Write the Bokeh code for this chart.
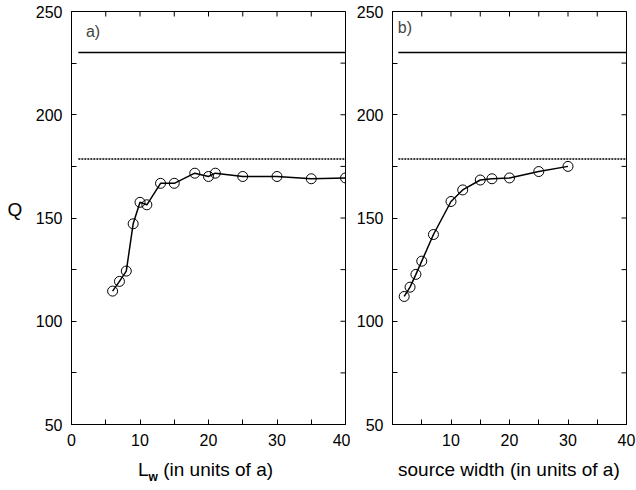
import math
from bokeh.plotting import figure
from bokeh.layouts import row, column
from bokeh.models import Range1d, FixedTicker, Label, Div
from bokeh.embed import file_html
from bokeh.resources import INLINE

# ---- data ----
lw = [6, 7, 8, 9, 10, 11, 13, 15, 18, 20, 21, 25, 30, 35, 40]
q_a = [114.6, 119.3, 124.3, 147.2, 157.6, 156.4, 166.8, 166.8, 171.7, 170.1, 171.7, 170.1, 170.1, 169.0, 169.4]

src_w = [2, 3, 4, 5, 7, 10, 12, 15, 17, 20, 25, 30]
q_b = [112.0, 116.5, 122.7, 129.1, 142.0, 158.0, 163.6, 168.4, 169.0, 169.4, 172.5, 175.0]

ref_x = [1, 40]
q_upper = [230.2, 230.2]
q_lower = [178.6, 178.6]

y_ticks = [50, 100, 150, 200, 250]
y_minor = [75, 125, 175, 225]
x_ticks_a = [0, 10, 20, 30, 40]
x_ticks_b = [10, 20, 30, 40]
x_minor = [0, 5, 15, 25, 35]

y_title = "Q"
x_title_a = "L<sub style='font-size:12px;font-weight:bold'>w</sub> (in units of a)"
x_title_b = "source width (in units of a)"

FONT = "Liberation Sans"


def style_axis(ax, ticks, minor):
    ax.ticker = FixedTicker(ticks=ticks, minor_ticks=minor)
    ax.major_tick_in = 5
    ax.major_tick_out = 0
    ax.minor_tick_in = 5
    ax.minor_tick_out = 0
    ax.axis_line_color = "black"
    ax.major_tick_line_color = "black"
    ax.minor_tick_line_color = "black"
    ax.major_label_text_font = FONT
    ax.major_label_text_color = "black"
    ax.major_label_text_font_size = "16px"
    ax.major_label_standoff = 9


def make_fig(width, left, right, xticks):
    p = figure(width=width, height=455, output_backend="svg", toolbar_location=None,
               x_range=Range1d(0, 40), y_range=Range1d(50, 250),
               min_border_left=left, min_border_right=right,
               min_border_top=11, min_border_bottom=31, margin=0)
    p.grid.visible = False
    p.outline_line_color = "black"
    p.background_fill_color = "white"
    p.border_fill_color = "white"
    style_axis(p.xaxis[0], xticks, x_minor)
    style_axis(p.yaxis[0], y_ticks, y_minor)
    # mirrored inward ticks on top and right edges
    top_x = sorted(set(xticks + x_minor))
    p.scatter(top_x, [250] * len(top_x), marker="dash", angle=math.pi / 2, size=10,
              line_color="black", line_width=1)
    right_y = sorted(set(y_ticks + y_minor))
    p.scatter([40] * len(right_y), right_y, marker="dash", size=10,
              line_color="black", line_width=1)
    p.line(ref_x, q_upper, line_color="black", line_width=1.5)
    p.line(ref_x, q_lower, line_color="black", line_width=1.5, line_dash="2 1")
    return p


def text_div(html, width, height, pad_left, pad_top, size, line_h, align="left"):
    return Div(text=html, width=width, height=height, margin=0,
               styles={"font-family": FONT, "font-size": size, "color": "black",
                       "padding-left": f"{pad_left}px", "padding-top": f"{pad_top}px",
                       "line-height": line_h, "white-space": "nowrap",
                       "text-align": align, "box-sizing": "border-box"})


# ---- panel a ----
pa = make_fig(320, 41, 5, x_ticks_a)
pa.line(lw, q_a, line_color="black", line_width=1.5)
pa.scatter(lw, q_a, marker="circle", size=10, fill_color=None, line_color="black", line_width=1)
pa.add_layout(Label(x=2.1, y=240.3, text="a)", text_font=FONT, text_font_size="16px",
                    text_baseline="middle", text_align="left"))

# ---- panel b ----
pb = make_fig(286, 42, 10, x_ticks_b)
pb.line(src_w, q_b, line_color="black", line_width=1.5)
pb.scatter(src_w, q_b, marker="circle", size=10, fill_color=None, line_color="black", line_width=1)
pb.add_layout(Label(x=0.9, y=242.3, text="b)", text_font=FONT, text_font_size="16px",
                    text_baseline="middle", text_align="left"))

div_q = text_div(y_title, 30, 490, 0, 200, "19px", "20px", align="center")
div_a = text_div(x_title_a, 320, 35, 108, 0, "19px", "30px")
div_b = text_div(x_title_b, 286, 35, 48, 0, "19px", "30px")

layout = row(column(div_q, margin=0),
             column(pa, div_a, margin=0),
             column(pb, div_b, margin=0), margin=0)
open("out.html", "w").write(file_html(layout, INLINE))
